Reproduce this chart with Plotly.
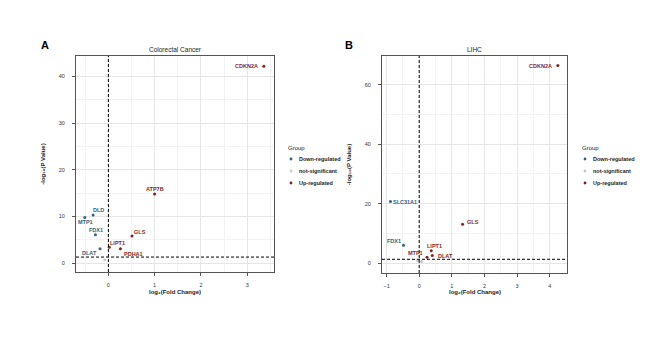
import plotly.graph_objects as go

# ---------------- data ----------------
genes_a = ["CDKN2A", "ATP7B", "GLS", "LIPT1", "PDHA1", "DLD", "MTP1", "FDX1", "DLAT", "NS1"]
fc_a    = [3.36, 1.00, 0.51, 0.02, 0.26, -0.33, -0.51, -0.28, -0.18, -0.08]
logp_a  = [42.2, 14.8, 5.8, 3.4, 3.1, 10.3, 9.8, 6.1, 3.1, 0.7]
group_a = ["Up-regulated", "Up-regulated", "Up-regulated", "Up-regulated", "Up-regulated",
           "Down-regulated", "Down-regulated", "Down-regulated", "Down-regulated", "not-significant"]

genes_b = ["CDKN2A", "SLC31A1", "GLS", "FDX1", "LIPT1", "DLAT", "MTP1", "NS1", "NS2"]
fc_b    = [4.25, -0.88, 1.33, -0.48, 0.37, 0.40, 0.24, -0.05, 0.08]
logp_b  = [66.4, 20.7, 13.1, 6.0, 4.2, 2.6, 2.0, 0.9, 0.6]
group_b = ["Up-regulated", "Down-regulated", "Up-regulated", "Down-regulated", "Up-regulated",
           "Up-regulated", "Up-regulated", "not-significant", "not-significant"]

groups = ["Down-regulated", "not-significant", "Up-regulated"]
titles = ["Colorectal Cancer", "LIHC"]
x_title = "log₂(Fold Change)"
y_title = "-log₁₀(P Value)"
p_cut = 1.3   # -log10(0.05)

# ---------------- styling ----------------
colors = {"Down-regulated": "#35607a", "not-significant": "#c8c8c8", "Up-regulated": "#861f1f"}
# label placement per gene: (xanchor, xshift, yshift)
lab_a = {"CDKN2A": ("right", -4, 0), "ATP7B": ("center", 0, 5), "GLS": ("left", 0, 4),
         "LIPT1": ("left", -1, 4), "PDHA1": ("left", 2, -5), "DLD": ("left", -2, 5),
         "MTP1": ("center", 1, -5), "FDX1": ("center", 1, 5), "DLAT": ("right", -1, -4)}
lab_b = {"CDKN2A": ("right", -4, 0), "SLC31A1": ("left", 1, 0), "GLS": ("left", 2, 2),
         "FDX1": ("right", -1, 4), "LIPT1": ("center", 3, 5), "DLAT": ("left", 4, -1),
         "MTP1": ("right", -2, 4)}

FONT = "Liberation Sans, Arial, sans-serif"
W, H = 669, 361

fig = go.Figure()

panels = [
    (genes_a, fc_a, logp_a, group_a, lab_a, "x", "y"),
    (genes_b, fc_b, logp_b, group_b, lab_b, "x2", "y2"),
]
annotations = []
shapes = []
for gi, (genes, fc, lp, grp, lab, xa, ya) in enumerate(panels):
    for g in groups:
        idx = [i for i, v in enumerate(grp) if v == g]
        fig.add_trace(go.Scatter(
            x=[fc[i] for i in idx], y=[lp[i] for i in idx],
            mode="markers", name=g, showlegend=False,
            marker=dict(size=3, color=colors[g]),
            text=[genes[i] for i in idx], xaxis=xa, yaxis=ya,
        ))
    for i, gname in enumerate(genes):
        if gname not in lab:
            continue
        anc, xs, ys = lab[gname]
        annotations.append(dict(
            x=fc[i], y=lp[i], xref=xa, yref=ya, text="<b>%s</b>" % gname,
            showarrow=False, xanchor=anc, yanchor="middle", xshift=xs, yshift=ys,
            font=dict(family=FONT, size=5.5, color=colors[grp[i]])))
    # threshold lines
    shapes.append(dict(type="line", xref=xa + " domain", yref=ya, x0=0, x1=1, y0=p_cut, y1=p_cut,
                       line=dict(color="black", width=1, dash="3px,2px"), layer="above"))
    shapes.append(dict(type="line", xref=xa, yref=ya + " domain", x0=0, x1=0, y0=0, y1=1,
                       line=dict(color="black", width=1, dash="3px,2px"), layer="above"))

# domains (paper)
dom_x = [[68 / W, 266 / W], [374 / W, 559 / W]]
dom_y = [[1 - 264 / H, 1 - 48 / H], [1 - 265 / H, 1 - 48 / H]]
xranges = [[-0.70, 3.58], [-1.14, 4.53]]
yranges = [[-1.9, 44.4], [-3.3, 69.6]]
ydt = [10, 20]

axis_common = dict(
    showline=True, linecolor="#555555", linewidth=1, mirror=True,
    ticks="outside", ticklen=3, tickcolor="#555555", tickwidth=1,
    showgrid=True, gridcolor="#e6e6e6", gridwidth=0.6, zeroline=False,
    tickfont=dict(family=FONT, size=5.5, color="#333333"),
)

layout_axes = {}
for k in range(2):
    sfx = "" if k == 0 else "2"
    layout_axes["xaxis" + sfx] = dict(
        axis_common, domain=dom_x[k], range=xranges[k], dtick=1,
        anchor="y" + sfx, ticklabelstandoff=4,
        minor=dict(showgrid=True, dtick=0.5, gridcolor="#f2f2f2", gridwidth=0.5))
    layout_axes["yaxis" + sfx] = dict(
        axis_common, domain=dom_y[k], range=yranges[k], dtick=ydt[k],
        anchor="x" + sfx, ticklabelstandoff=6,
        minor=dict(showgrid=True, dtick=ydt[k] / 2, gridcolor="#f2f2f2", gridwidth=0.5),
        title=dict(text="<b>%s</b>" % y_title, standoff=12,
                   font=dict(family=FONT, size=6, color="#222222")))
    # x-axis title
    annotations.append(dict(
        x=(dom_x[k][0] + dom_x[k][1]) / 2, y=1 - 284 / H, xref="paper", yref="paper",
        text="<b>%s</b>" % x_title, showarrow=False, xanchor="center", yanchor="middle",
        font=dict(family=FONT, size=6, color="#222222")))
    # panel title
    annotations.append(dict(
        x=(dom_x[k][0] + dom_x[k][1]) / 2, y=dom_y[k][1], xref="paper", yref="paper",
        text=titles[k], showarrow=False, xanchor="center", yanchor="bottom", yshift=1,
        font=dict(family=FONT, size=6.5, color="#222222")))
    # panel letter
    annotations.append(dict(
        x=[37 / W, 341 / W][k], y=1 - 37 / H, xref="paper", yref="paper",
        text="<b>%s</b>" % "AB"[k], showarrow=False, xanchor="center", yanchor="middle",
        font=dict(family=FONT, size=11, color="black")))
    # legend (manual, compact like ggplot)
    lx = [278, 572][k]
    annotations.append(dict(
        x=lx / W, y=1 - 140 / H, xref="paper", yref="paper", text="Group",
        showarrow=False, xanchor="left", yanchor="middle",
        font=dict(family=FONT, size=6, color="#222222")))
    for j, g in enumerate(groups):
        yy = 1 - (151 + 12 * j) / H
        shapes.append(dict(type="circle", xref="paper", yref="paper",
                           xsizemode="pixel", ysizemode="pixel",
                           xanchor=(lx + 5) / W, yanchor=yy,
                           x0=-1.4, x1=1.4, y0=-1.4, y1=1.4,
                           fillcolor=colors[g], line=dict(width=0)))
        annotations.append(dict(
            x=(lx + 11) / W, y=yy, xref="paper", yref="paper", text="<b>%s</b>" % g,
            showarrow=False, xanchor="left", yanchor="middle",
            font=dict(family=FONT, size=5.5, color="#222222")))

fig.update_layout(
    width=W, height=H, margin=dict(l=0, r=0, t=0, b=0),
    paper_bgcolor="white", plot_bgcolor="white",
    showlegend=False, annotations=annotations, shapes=shapes,
    **layout_axes,
)

fig.write_html("out.html")
